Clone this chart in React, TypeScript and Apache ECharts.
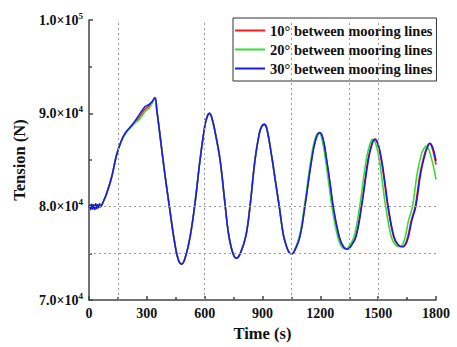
import React, { useEffect, useRef } from "react";
import * as echarts from "echarts";

const seriesNames = [
  "10° between mooring lines",
  "20° between mooring lines",
  "30° between mooring lines",
];

// [time (s), tension (N)]
const blueData: [number, number][] = [
  [0, 79900], [5, 80200], [10, 79700], [15, 80250], [20, 79750], [25, 80200], [30, 79700],
  [35, 80300], [40, 79800], [45, 80200], [50, 79900], [55, 80300], [60, 80000],
  [74, 80530], [92, 81430], [118, 83210], [143, 85540], [165, 86900], [187, 87860],
  [230, 88930], [265, 90000], [290, 90710], [308, 90890], [325, 91200], [342, 91700],
  [352, 90300], [365, 88200], [382, 85350], [400, 82500], [417, 80000], [442, 76430],
  [462, 74400], [481, 73860], [500, 74600], [524, 76700], [550, 80400], [576, 85000],
  [602, 88800], [614, 89700], [624, 90000], [636, 89600], [655, 87900], [680, 85000],
  [705, 80400], [723, 77200], [745, 75100], [766, 74470], [787, 75100], [814, 76900],
  [835, 80000], [861, 85000], [883, 87800], [896, 88600], [909, 88820], [922, 88400],
  [948, 85350], [968, 82600], [987, 80000], [1008, 77000], [1025, 75710], [1040, 75050],
  [1051, 74930], [1065, 75200], [1094, 76780], [1120, 80000], [1155, 85000], [1178, 87300],
  [1198, 87930], [1215, 87200], [1233, 85000], [1250, 82600], [1267, 80000], [1298, 76780],
  [1320, 75700], [1340, 75430], [1360, 75800], [1385, 76780], [1414, 80000], [1449, 85000],
  [1468, 86700], [1484, 87210], [1500, 86700], [1518, 85000], [1535, 82600], [1552, 80000],
  [1582, 76780], [1605, 75900], [1627, 75710], [1650, 76300], [1675, 78560], [1695, 80000],
  [1720, 83500], [1743, 85600], [1758, 86500], [1769, 86790], [1782, 86400], [1793, 85600],
  [1800, 84900],
];

const greenData: [number, number][] = [
  [0, 79900], [5, 80200], [10, 79700], [15, 80250], [20, 79750], [25, 80200], [30, 79700],
  [35, 80300], [40, 79800], [45, 80200], [50, 79900], [55, 80300], [60, 80000],
  [74, 80530], [92, 81430], [118, 83210], [143, 85540], [165, 86900], [187, 87760],
  [230, 88800], [265, 89460], [290, 90200], [308, 90500], [325, 91000], [342, 91600],
  [352, 90300], [365, 88200], [382, 85350], [400, 82500], [417, 80000], [442, 76430],
  [462, 74400], [481, 73860], [500, 74600], [524, 76700], [550, 80400], [576, 85000],
  [602, 88800], [614, 89700], [624, 90000], [636, 89600], [655, 87900], [680, 85000],
  [705, 80400], [723, 77200], [745, 75100], [766, 74470], [787, 75100], [814, 76900],
  [835, 80000], [861, 85000], [883, 87800], [896, 88600], [909, 88820], [922, 88400],
  [948, 85350], [968, 82600], [987, 80000], [1008, 77000], [1025, 75710], [1038, 75050],
  [1049, 74930], [1062, 75200], [1091, 76780], [1117, 80000], [1151, 85000], [1173, 87300],
  [1193, 87930], [1209, 87200], [1227, 85000], [1243, 82600], [1260, 80000], [1290, 76780],
  [1311, 75700], [1331, 75430], [1350, 75800], [1375, 76780], [1404, 80000], [1438, 85000],
  [1457, 86700], [1473, 87210], [1488, 86700], [1506, 85000], [1522, 82600], [1539, 80000],
  [1568, 76780], [1590, 75900], [1612, 75710], [1634, 76300], [1658, 78560], [1678, 80000],
  [1702, 83500], [1724, 85600], [1739, 86300], [1750, 86500], [1763, 86100], [1776, 85200],
  [1789, 84100], [1800, 82900],
];

const redData: [number, number][] = [
  [0, 79900], [5, 80200], [10, 79700], [15, 80250], [20, 79750], [25, 80200], [30, 79700],
  [35, 80300], [40, 79800], [45, 80200], [50, 79900], [55, 80300], [60, 80000],
  [74, 80530], [92, 81430], [118, 83210], [143, 85540], [165, 86900], [187, 87800],
  [230, 88850], [265, 89700], [290, 90450], [308, 90700], [325, 91100], [342, 91650],
  [352, 90300], [365, 88200], [382, 85350], [400, 82500], [417, 80000], [442, 76430],
  [462, 74400], [481, 73860], [500, 74600], [524, 76700], [550, 80400], [576, 85000],
  [602, 88800], [614, 89700], [624, 90000], [636, 89600], [655, 87900], [680, 85000],
  [705, 80400], [723, 77200], [745, 75100], [766, 74470], [787, 75100], [814, 76900],
  [835, 80000], [861, 85000], [883, 87800], [896, 88600], [909, 88820], [922, 88400],
  [948, 85350], [968, 82600], [987, 80000], [1008, 77000], [1025, 75710], [1040, 75050],
  [1051, 74930], [1064, 75200], [1093, 76780], [1119, 80000], [1154, 85000], [1177, 87300],
  [1197, 87930], [1214, 87200], [1232, 85000], [1249, 82600], [1266, 80000], [1297, 76780],
  [1318, 75700], [1338, 75430], [1358, 75800], [1383, 76780], [1412, 80000], [1447, 85000],
  [1466, 86700], [1482, 87210], [1498, 86700], [1516, 85000], [1533, 82600], [1550, 80000],
  [1580, 76780], [1602, 75900], [1624, 75710], [1647, 76300], [1672, 78560], [1692, 80000],
  [1717, 83500], [1740, 85600], [1755, 86500], [1766, 86760], [1779, 86350], [1790, 85500],
  [1800, 84500],
];

const refTimes = [150, 600, 1050, 1350, 1500];
const refTensions = [75000, 80000];

const FONT = "Liberation Serif";
const LINE_ICON = "path://M0,0 L30,0 L30,2 L0,2 Z";

export default function App() {
  const ref = useRef<HTMLDivElement>(null);
  useEffect(() => {
    if (!ref.current) return;
    const chart = echarts.init(ref.current, undefined, { renderer: "svg" });
    const gridLine = { color: "#9a9a9a", width: 1, type: [2, 3] as number[] };
    chart.setOption({
      animation: false,
      backgroundColor: "#ffffff",
      grid: { left: 89, right: 21, top: 20, bottom: 47 },
      legend: {
        orient: "vertical",
        left: 233,
        top: 18,
        padding: [5, 4, 5, 2],
        itemGap: 4,
        itemWidth: 30,
        itemHeight: 14,
        borderColor: "#333",
        borderWidth: 1,
        backgroundColor: "#fff",
        icon: LINE_ICON,
        data: seriesNames,
        textStyle: { fontFamily: FONT, fontWeight: "bold", fontSize: 14.5, color: "#111" },
      },
      xAxis: {
        type: "value",
        min: 0,
        max: 1800,
        interval: 300,
        name: "Time (s)",
        nameLocation: "middle",
        nameGap: 21,
        nameTextStyle: { fontFamily: FONT, fontWeight: "bold", fontSize: 16.5, color: "#111" },
        axisLine: { show: true, lineStyle: { color: "#444", width: 1.5 } },
        axisTick: { show: true, inside: true, length: 4, lineStyle: { color: "#444", width: 1.5 } },
        minorTick: { show: true, splitNumber: 2, length: 3, lineStyle: { color: "#444", width: 1.5 } },
        axisLabel: {
          fontFamily: FONT,
          fontWeight: "bold",
          fontSize: 14,
          color: "#111",
          margin: 6,
          formatter: (v: number) => String(v),
        },
        splitLine: { show: false },
      },
      yAxis: {
        type: "value",
        min: 70000,
        max: 100000,
        interval: 10000,
        name: "Tension (N)",
        nameLocation: "middle",
        nameGap: 57,
        nameTextStyle: { fontFamily: FONT, fontWeight: "bold", fontSize: 16.5, color: "#111" },
        axisLine: { show: true, lineStyle: { color: "#444", width: 1.5 } },
        axisTick: { show: true, inside: true, length: 4, lineStyle: { color: "#444", width: 1.5 } },
        minorTick: { show: true, splitNumber: 2, length: 3, lineStyle: { color: "#444", width: 1.5 } },
        axisLabel: {
          margin: 6,
          formatter: (v: number) => {
            const exp = Math.floor(Math.log10(v));
            const mant = (v / Math.pow(10, exp)).toFixed(1);
            return `{b|${mant}×10}{s|${exp}}`;
          },
          rich: {
            b: { fontFamily: FONT, fontWeight: "bold", fontSize: 14, color: "#111", lineHeight: 18 },
            s: { fontFamily: FONT, fontWeight: "bold", fontSize: 9, color: "#111", verticalAlign: "top", lineHeight: 18 },
          },
        },
        splitLine: { show: false },
      },
      series: [
        {
          name: seriesNames[0],
          type: "line",
          data: redData,
          showSymbol: false,
          symbol: "none",
          smooth: 0.4,
          lineStyle: { color: "#ff1a1a", width: 1.6 },
          itemStyle: { color: "#ff1a1a" },
          z: 2,
          markLine: {
            silent: true,
            symbol: "none",
            label: { show: false },
            lineStyle: gridLine,
            data: [
              ...refTimes.map((t) => ({ xAxis: t })),
              ...refTensions.map((v) => ({ yAxis: v })),
            ],
          },
        },
        {
          name: seriesNames[1],
          type: "line",
          data: greenData,
          showSymbol: false,
          symbol: "none",
          smooth: 0.4,
          lineStyle: { color: "#33dd33", width: 1.6 },
          itemStyle: { color: "#33dd33" },
          z: 3,
        },
        {
          name: seriesNames[2],
          type: "line",
          data: blueData,
          showSymbol: false,
          symbol: "none",
          smooth: 0.4,
          lineStyle: { color: "#1a1aee", width: 1.6 },
          itemStyle: { color: "#1a1aee" },
          z: 4,
        },
      ],
    });
    return () => chart.dispose();
  }, []);
  return (
    <div
      ref={ref}
      style={{ position: "fixed", left: 0, top: 0, width: 457, height: 347, background: "#fff" }}
    />
  );
}
